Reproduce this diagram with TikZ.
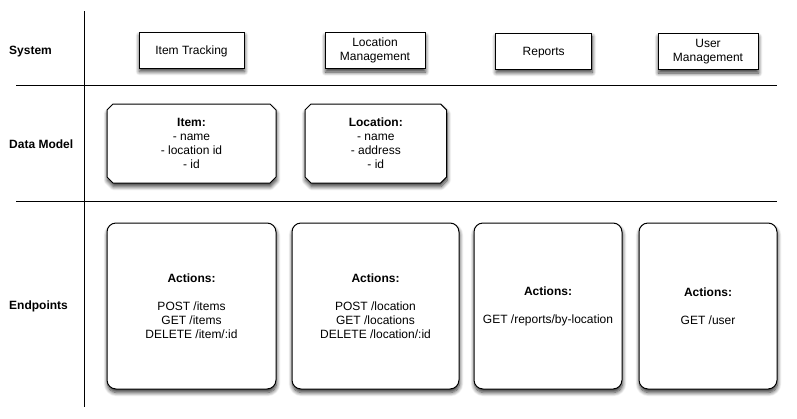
\documentclass[tikz,border=0pt]{standalone}
\usepackage{fontspec}
\setmainfont{Liberation Sans}
\usetikzlibrary{shadows.blur}
\begin{document}
\begin{tikzpicture}[x=1pt,y=-1pt,
  every node/.style={font=\fontsize{12}{14}\selectfont, align=center, inner sep=0pt},
  shade/.style={blur shadow={shadow xshift=0.5pt, shadow yshift=-3.5pt, shadow blur radius=4pt, shadow blur steps=8, shadow opacity=80}},
  sysbox/.style={draw, line width=1pt, fill=white, minimum height=36pt, shade},
  oneline/.style={text height=8.6pt, text depth=0pt},
  dmtext/.style={minimum height=79pt},
  dmframe/.style={draw, line width=1pt, fill=white, shade},
  epbox/.style={draw, line width=1pt, fill=white, rounded corners=9pt, minimum height=166pt, shade},
  rowlabel/.style={anchor=west, font=\fontsize{12}{14}\selectfont\bfseries},
  sep/.style={line width=1pt}]
\useasboundingbox (0,0) rectangle (797,418);
% grid lines
\draw[sep] (84,11) -- (84,407);
\draw[sep] (16,85) -- (777,85);
\draw[sep] (16,201) -- (777,201);
% row labels
\node[rowlabel] (lsys) at (9,52) {System};
\node[rowlabel] (ldm) at (9,144) {Data Model};
\node[rowlabel] (lep) at (9,306) {Endpoints};
% system boxes
\node[sysbox, oneline, minimum width=105pt] (s1) at (191.5,50) {Item Tracking};
\node[sysbox, minimum width=100pt] (s2) at (375,50.5) {Location\\Management};
\node[sysbox, oneline, minimum width=96pt] (s3) at (543.7,51) {Reports};
\node[sysbox, minimum width=100pt] (s4) at (708,51.5) {User\\Management};
% data model frames (chamfered)
\path[dmframe] (113,104) -- (270,104) -- (276,110) -- (276,177) -- (270,183)
  -- (113,183) -- (107,177) -- (107,110) -- cycle;
\path[dmframe] (311,104) -- (440.6,104) -- (446.6,110) -- (446.6,177) -- (440.6,183)
  -- (311,183) -- (305,177) -- (305,110) -- cycle;
\node[dmtext, minimum width=169pt] (d1) at (191.5,143.5) {\textbf{Item:}\\- name\\- location id\\- id};
\node[dmtext, minimum width=141.7pt] (d2) at (375.8,143.5) {\textbf{Location:}\\- name\\- address\\- id};
% endpoints
\node[epbox, minimum width=169pt] (e1) at (191.5,306) {\textbf{Actions:}\\[14pt]POST /items\\GET /items\\DELETE /item/:id};
\node[epbox, minimum width=167pt] (e2) at (375.5,306) {\textbf{Actions:}\\[14pt]POST /location\\GET /locations\\DELETE /location/:id};
\node[epbox, minimum width=148pt] (e3) at (548,306) {\textbf{Actions:}\\[14pt]GET /reports/by-location};
\node[epbox, minimum width=138pt] (e4) at (708,306) {\textbf{Actions:}\\[14pt]GET /user};
\end{tikzpicture}
\end{document}
